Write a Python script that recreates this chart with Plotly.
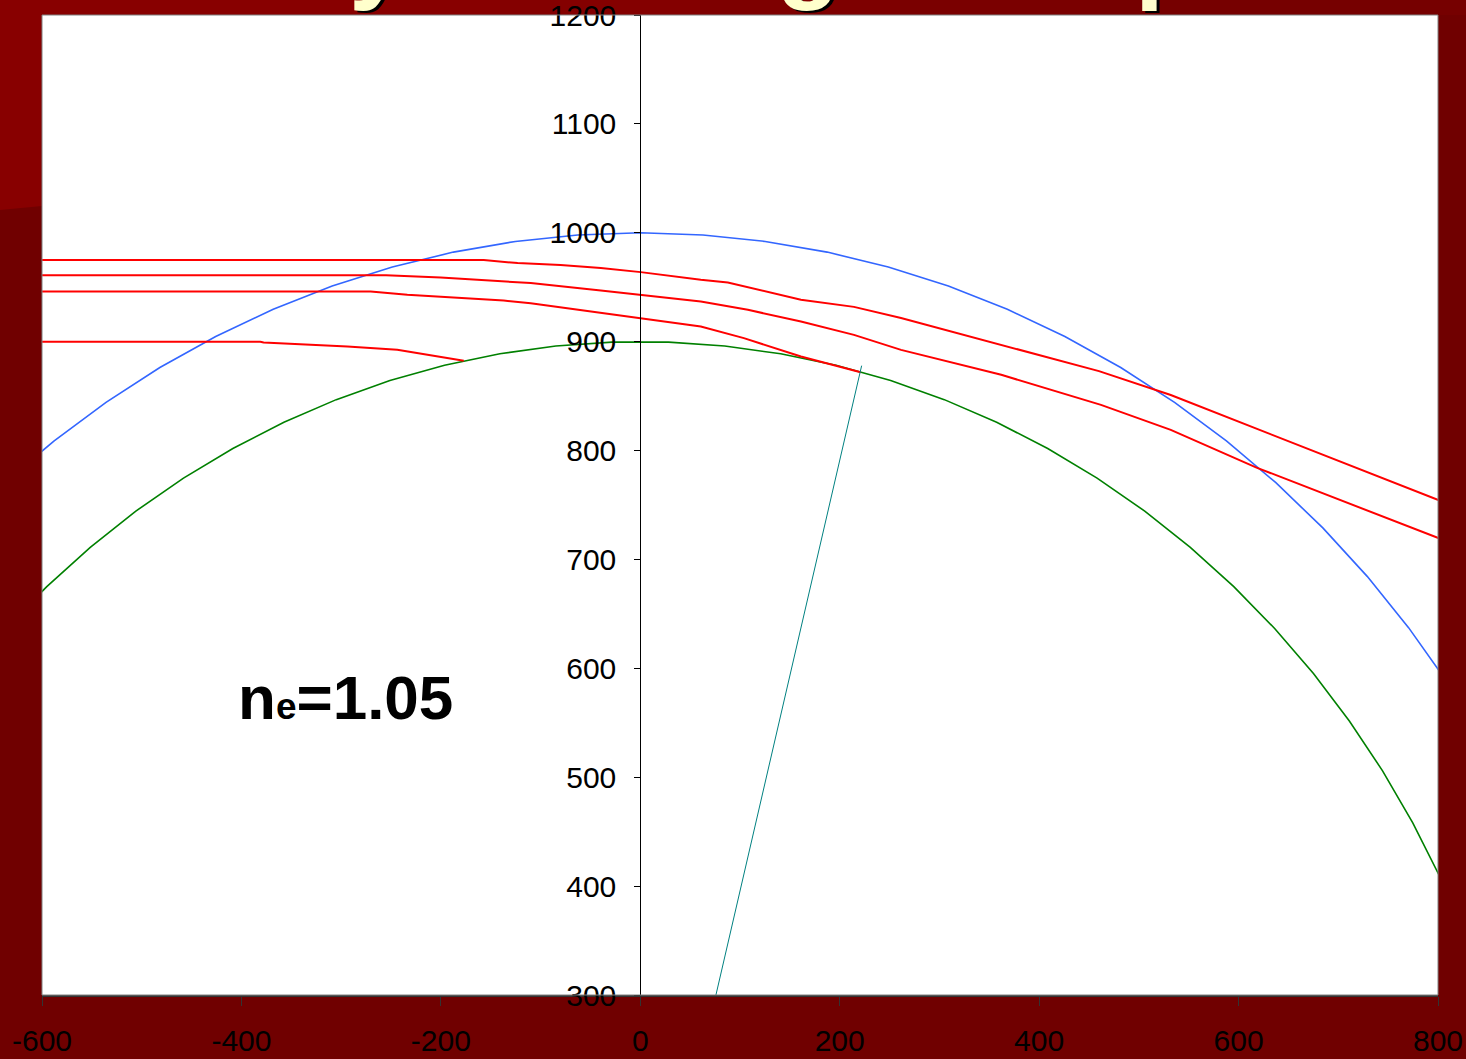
import plotly.graph_objects as go

# ---- data -------------------------------------------------------------
# outer shell (r = 1000) sampled as a polyline
blue_x = [-684.5, -637.4, -587.8, -535.8, -481.8, -425.8, -368.1, -309.0, -248.7, -187.4, -125.3, -62.8,
          0.0, 62.8, 125.3, 187.4, 248.7, 309.0, 368.1, 425.8, 481.8, 535.8, 587.8, 637.4, 684.5, 729.0,
          770.5, 809.0]
blue_y = [729.0, 770.5, 809.0, 844.3, 876.3, 904.8, 929.8, 951.1, 968.6, 982.3, 992.1, 998.0,
          1000.0, 998.0, 992.1, 982.3, 968.6, 951.1, 929.8, 904.8, 876.3, 844.3, 809.0, 770.5, 729.0, 684.5,
          637.4, 587.8]

# surface (r = 900) sampled as a polyline
green_x = [-636.4, -595.2, -551.6, -505.9, -458.1, -408.6, -357.4, -304.9, -251.1, -196.3, -140.8, -84.7,
           -28.3, 28.3, 84.7, 140.8, 196.3, 251.1, 304.9, 357.4, 408.6, 458.1, 505.9, 551.6, 595.2, 636.4,
           675.1, 711.1, 744.4, 774.7, 801.9]
green_y = [636.4, 675.1, 711.1, 744.4, 774.7, 801.9, 826.0, 846.8, 864.3, 878.3, 888.9, 896.0,
           899.6, 899.6, 896.0, 888.9, 878.3, 864.3, 846.8, 826.0, 801.9, 774.7, 744.4, 711.1, 675.1, 636.4,
           595.2, 551.6, 505.9, 458.1, 408.6]

# rays
ray_a_x = [-600, -157, -123, -80, -39.6, 0.5, 60.7, 87.8, 161.1, 214.3, 261.5, 362, 460, 532, 820]
ray_a_y = [975, 975, 972.2, 970.5, 967.6, 963.9, 956.8, 954.4, 938.5, 932.0, 921.7, 897, 873, 851, 747.6]

ray_b_x = [-600, -255, -200.2, -147, -109.9, -39.6, 0.5, 60.7, 107.9, 161.1, 214.3, 261.5, 362, 462, 532, 618, 820]
ray_b_y = [961, 961, 959.0, 956.2, 953.8, 947.0, 943.1, 936.9, 929.3, 918.5, 906.3, 892.5, 869.6, 842, 819, 784.4, 712.7]

ray_c_x = [-600, -270.4, -233.6, -183.4, -137, -109.9, -39.6, 0.5, 60.7, 103.9, 161.1, 221]
ray_c_y = [946, 946, 943.1, 940.0, 937.8, 935.4, 926.8, 921.7, 914.0, 903.3, 886.4, 872]

ray_d_x = [-600, -381, -377.8, -344, -293.8, -243.7, -177]
ray_d_y = [900, 900, 899.2, 897.8, 895.6, 892.6, 882.5]

# radial line through the landing point of ray C
radial_x = [0, 222]
radial_y = [0, 878]

x_ticks = [-600, -400, -200, 0, 200, 400, 600, 800]
y_ticks = [300, 400, 500, 600, 700, 800, 900, 1000, 1100, 1200]

title_text = "Ray bending example"
label_text = "n<span style='font-size:37px'>e</span>=1.05"

# ---- figure -----------------------------------------------------------
W, H = 1466, 1059
ML, MR, MT, MB = 42, 28, 15, 64
PW, PH = W - ML - MR, H - MT - MB


def px(xp):
    return (xp - ML) / PW


def py(yp):
    return (H - MB - yp) / PH


FONT = "Liberation Sans, Arial, sans-serif"

fig = go.Figure()

fig.add_trace(go.Scatter(x=blue_x, y=blue_y, mode="lines",
                         line=dict(color="#3366FF", width=1.6), hoverinfo="skip"))
fig.add_trace(go.Scatter(x=green_x, y=green_y, mode="lines",
                         line=dict(color="#008000", width=1.6), hoverinfo="skip"))
for rx, ry in [(ray_a_x, ray_a_y), (ray_b_x, ray_b_y), (ray_c_x, ray_c_y), (ray_d_x, ray_d_y)]:
    fig.add_trace(go.Scatter(x=rx, y=ry, mode="lines",
                             line=dict(color="#FF0000", width=2), hoverinfo="skip"))
fig.add_trace(go.Scatter(x=radial_x, y=radial_y, mode="lines",
                         line=dict(color="#008080", width=1), hoverinfo="skip"))

# slide background: brighter red in the upper-left, darker elsewhere
shapes = []
shapes.append(dict(type="path", xref="paper", yref="paper", layer="below",
                   path=f"M {px(0)},{py(0)} L {px(ML)},{py(0)} L {px(ML)},{py(206)} L {px(0)},{py(210)} Z",
                   fillcolor="#880000", line=dict(width=0)))
bands = [(ML, 500, "#880000"), (500, 700, "#840000"), (700, 900, "#7E0000"),
         (900, 1100, "#7A0000"), (1100, W, "#760000")]
for x0, x1, c in bands:
    shapes.append(dict(type="rect", xref="paper", yref="paper", layer="below",
                       x0=px(x0), x1=px(x1), y0=py(MT), y1=py(0),
                       fillcolor=c, line=dict(width=0)))
# plot frame
shapes.append(dict(type="rect", xref="paper", yref="paper", layer="above",
                   x0=0, x1=1, y0=0, y1=1, line=dict(color="#808080", width=1)))

annotations = [
    # title (mostly above the visible page), drop shadow first
    dict(text=f"<b>{title_text}</b>", xref="paper", yref="paper", x=px(750), y=py(13),
         xanchor="center", yanchor="bottom", showarrow=False, xshift=3, yshift=-2,
         font=dict(family=FONT, size=104, color="#000000")),
    dict(text=f"<b>{title_text}</b>", xref="paper", yref="paper", x=px(750), y=py(13),
         xanchor="center", yanchor="bottom", showarrow=False,
         font=dict(family=FONT, size=104, color="#FFFFCC")),
    dict(text=f"<b>{label_text}</b>", xref="x", yref="y", x=-296, y=573.5,
         xanchor="center", yanchor="middle", showarrow=False,
         font=dict(family=FONT, size=62, color="#000000")),
]

fig.update_layout(
    width=W, height=H, autosize=False,
    margin=dict(l=ML, r=MR, t=MT, b=MB, pad=0, autoexpand=False),
    paper_bgcolor="#700000",
    plot_bgcolor="#FFFFFF",
    showlegend=False,
    shapes=shapes,
    annotations=annotations,
    xaxis=dict(range=[-600, 800], tickvals=x_ticks, ticktext=[str(v) for v in x_ticks],
               automargin=False, ticklabeloverflow="allow",
               showline=True, linecolor="#333333", linewidth=1.5,
               ticks="outside", ticklen=9, tickcolor="#333333", tickwidth=1,
               showgrid=False, zeroline=False, ticklabelstandoff=9,
               tickfont=dict(family=FONT, size=30, color="#000000")),
    yaxis=dict(range=[300, 1200.05], tickvals=y_ticks, ticktext=[str(v) for v in y_ticks],
               automargin=False, ticklabeloverflow="allow",
               anchor="free", position=600 / 1400,
               showline=True, linecolor="#000000", linewidth=1,
               ticks="outside", ticklen=6, tickcolor="#000000", tickwidth=1,
               showgrid=False, zeroline=False, ticklabelstandoff=12,
               tickfont=dict(family=FONT, size=30, color="#000000")),
)

fig.write_html("out.html")
